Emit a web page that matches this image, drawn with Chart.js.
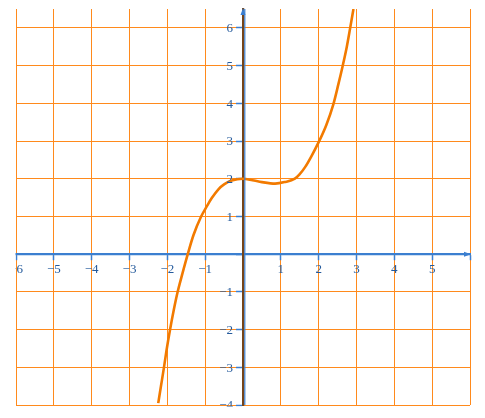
<!DOCTYPE html>
<html>
<head>
<meta charset="utf-8">
<script src="https://cdn.jsdelivr.net/npm/chart.js@4.4.1/dist/chart.umd.min.js"></script>
<style>
  html, body { margin: 0; padding: 0; background: #fff; }
  #wrap { width: 485px; height: 418px; }
</style>
</head>
<body>
<div id="wrap"><canvas id="plot"></canvas></div>
<script>
// curve points (x, y)
const curveX = [-2.24, -2.17, -2.09, -2.02, -1.93, -1.83, -1.73, -1.60, -1.46, -1.31, -1.11, -0.95, -0.83, -0.65, -0.5, -0.3, 0, 0.25, 0.5, 0.85, 1.1, 1.37, 1.5, 1.65, 1.80, 2.0, 2.2, 2.39, 2.52, 2.63, 2.74, 2.83, 2.92];
const curveY = [-3.95, -3.51, -3.01, -2.54, -2.01, -1.48, -1.01, -0.51, 0, 0.5, 0.99, 1.28, 1.48, 1.72, 1.85, 1.95, 2.0, 1.96, 1.91, 1.87, 1.91, 2.0, 2.12, 2.32, 2.58, 2.97, 3.42, 3.98, 4.5, 4.97, 5.48, 5.98, 6.5];

const xRange = [-6, 6];
const yRange = [-4, 6.5];

const gridOrange = '#ff8a1c';
const curveOrange = '#f27a00';
const axisBlue = '#3b7fd0';
const axisBrown = '#76451a';
const labelBlue = '#245a9c';
const labelFont = '13px "Liberation Serif"';

const minus = v => (v < 0 ? '\u2212' + Math.abs(v) : String(v));

// y tick labels, axis arrows, the blue edge of the y axis, and clipping outside the plot box
const axisExtras = {
    id: 'axisExtras',
    afterDraw(chart) {
        const { ctx, chartArea, scales } = chart;
        const x0 = scales.x.getPixelForValue(0);
        const y0 = scales.y.getPixelForValue(0);
        ctx.save();

        ctx.fillStyle = labelBlue;
        ctx.font = labelFont;
        ctx.textAlign = 'right';
        ctx.textBaseline = 'middle';
        scales.y.ticks.forEach(t => {
            if (t.value === 0) return;
            ctx.fillText(minus(t.value), x0 - 10, scales.y.getPixelForValue(t.value) + 1);
        });

        // white out what spills outside the plot box (left and bottom)
        ctx.fillStyle = '#fff';
        ctx.fillRect(0, 0, chartArea.left - 0.5, chart.height);
        ctx.fillRect(0, chartArea.bottom + 1.5, chart.width, chart.height);

        ctx.strokeStyle = axisBlue;
        ctx.lineWidth = 1.2;
        ctx.beginPath();
        ctx.moveTo(x0 + 1.8, chartArea.top);
        ctx.lineTo(x0 + 1.8, chartArea.bottom);
        ctx.stroke();

        ctx.fillStyle = axisBlue;
        ctx.beginPath();
        ctx.moveTo(x0, chartArea.top - 1);
        ctx.lineTo(x0 - 2.5, chartArea.top + 6);
        ctx.lineTo(x0 + 2.5, chartArea.top + 6);
        ctx.closePath();
        ctx.fill();

        ctx.beginPath();
        ctx.moveTo(chartArea.right + 1, y0);
        ctx.lineTo(chartArea.right - 6, y0 - 2.5);
        ctx.lineTo(chartArea.right - 6, y0 + 2.5);
        ctx.closePath();
        ctx.fill();
        ctx.restore();
    }
};

const keepIntegers = scale => {
    scale.ticks = scale.ticks.filter(t => Number.isInteger(t.value));
};

new Chart(document.getElementById('plot'), {
    type: 'scatter',
    data: {
        datasets: [{
            data: curveX.map((x, i) => ({ x, y: curveY[i] })),
            showLine: true,
            borderColor: curveOrange,
            borderWidth: 2.6,
            pointRadius: 0,
            cubicInterpolationMode: 'monotone'
        }]
    },
    options: {
        responsive: true,
        maintainAspectRatio: false,
        animation: false,
        layout: { padding: { left: 16, right: 15, top: 9, bottom: 13 } },
        plugins: { legend: { display: false }, tooltip: { enabled: false } },
        scales: {
            x: {
                type: 'linear',
                min: xRange[0],
                max: xRange[1],
                position: { y: 0 },
                afterBuildTicks: keepIntegers,
                ticks: {
                    stepSize: 1,
                    padding: 3,
                    color: labelBlue,
                    font: { family: 'Liberation Serif', size: 13 },
                    maxRotation: 0,
                    autoSkip: false,
                    callback: v => (v === 0 || v === 6 ? '' : minus(v))
                },
                grid: { color: gridOrange, lineWidth: 1, tickLength: 5, tickColor: axisBlue, tickWidth: 1.5 },
                border: { color: axisBlue, width: 2.2 }
            },
            y: {
                type: 'linear',
                min: yRange[0],
                max: yRange[1],
                position: { x: 0 },
                afterBuildTicks: keepIntegers,
                ticks: { stepSize: 1, display: false },
                grid: { color: gridOrange, lineWidth: 1, tickLength: 6, tickColor: axisBlue, tickWidth: 1.5 },
                border: { color: axisBrown, width: 2.2 }
            }
        }
    },
    plugins: [axisExtras]
});
</script>
</body>
</html>
